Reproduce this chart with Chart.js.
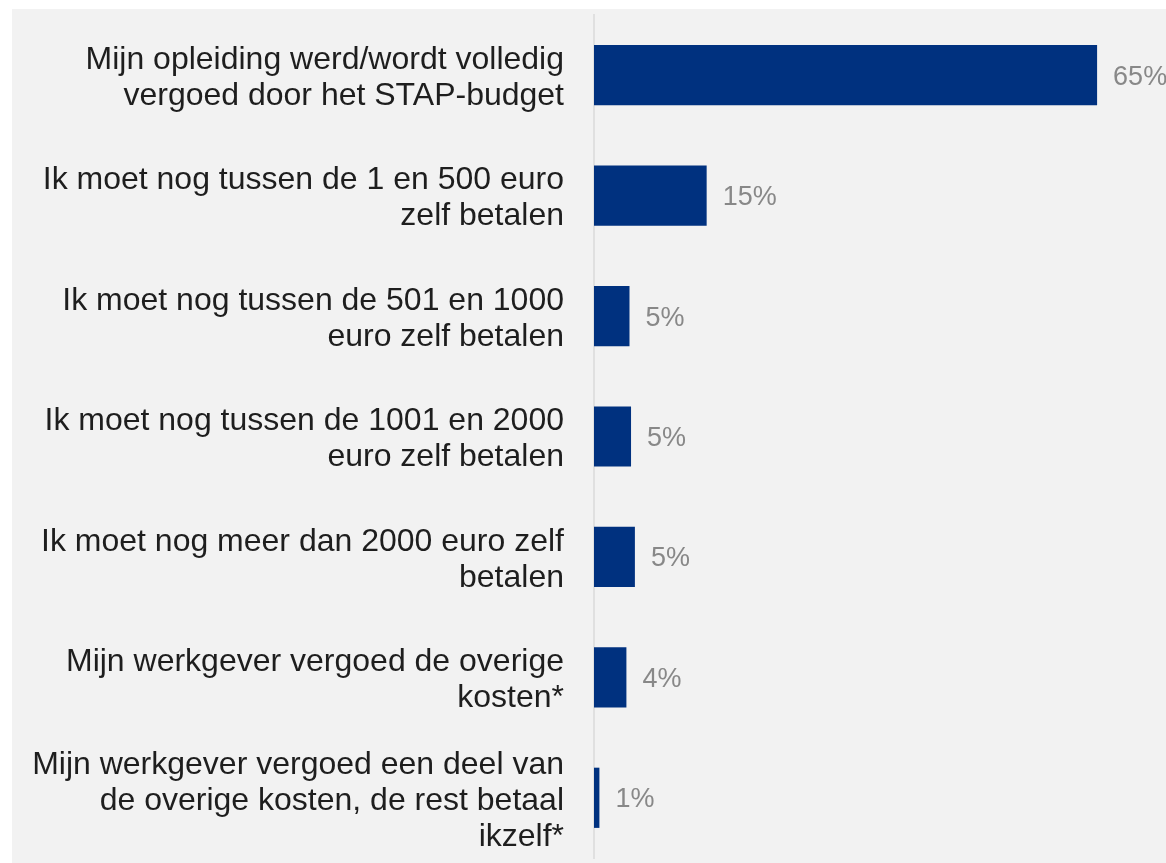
<!DOCTYPE html>
<html>
<head>
<meta charset="utf-8">
<script src="https://cdn.jsdelivr.net/npm/chart.js@4/dist/chart.umd.min.js"></script>
<style>
  body { margin: 0; background: #ffffff; }
  #wrap { position: absolute; left: 12px; top: 9px; width: 1154px; height: 854px; background: #f2f2f2; }
</style>
</head>
<body>
<div id="wrap"><canvas id="chart" width="1154" height="854"></canvas></div>
<script>
// categories (multi-line, as in the original)
const categories = [
    ["Mijn opleiding werd/wordt volledig", "vergoed door het STAP-budget"],
    ["Ik moet nog tussen de 1 en 500 euro", "zelf betalen"],
    ["Ik moet nog tussen de 501 en 1000", "euro zelf betalen"],
    ["Ik moet nog tussen de 1001 en 2000", "euro zelf betalen"],
    ["Ik moet nog meer dan 2000 euro zelf", "betalen"],
    ["Mijn werkgever vergoed de overige", "kosten*"],
    ["Mijn werkgever vergoed een deel van", "de overige kosten, de rest betaal", "ikzelf*"]
];

// share of respondents (%)
const shares = [65.2, 14.6, 4.6, 4.8, 5.3, 4.2, 0.7];

// value labels next to the bars
const valueLabels = {
    id: 'valueLabels',
    afterDatasetsDraw(chart) {
        const ctx = chart.ctx;
        const meta = chart.getDatasetMeta(0);
        ctx.save();
        ctx.font = '27px "Liberation Sans", Arial, sans-serif';
        ctx.fillStyle = '#888888';
        ctx.textAlign = 'left';
        ctx.textBaseline = 'middle';
        meta.data.forEach(function(bar, i) {
            ctx.fillText(Math.round(shares[i]) + '%', bar.x + 16, bar.y + 2);
        });
        ctx.restore();
    }
};

new Chart(document.getElementById('chart'), {
    type: 'bar',
    data: {
        labels: categories,
        datasets: [{
            data: shares,
            backgroundColor: '#00317f',
            barPercentage: 0.5,
            categoryPercentage: 1.0
        }]
    },
    options: {
        indexAxis: 'y',
        responsive: false,
        animation: false,
        devicePixelRatio: 1,
        layout: { padding: { left: 0, right: 1, top: 6, bottom: 5 } },
        plugins: {
            legend: { display: false },
            tooltip: { enabled: false }
        },
        scales: {
            x: {
                display: false,
                min: 0,
                max: 74
            },
            y: {
                afterFit: function(scale) {
                    scale.width = 582;
                    scale.paddingTop = 0;   // labels may overhang, like the original
                    scale.paddingBottom = 0;
                },
                grid: { display: false, drawTicks: false },
                border: { display: true, color: '#e0e0e0', width: 2 },
                ticks: {
                    padding: 30,
                    labelOffset: 3,
                    color: '#1e1e1e',
                    font: { family: '"Liberation Sans", Arial, sans-serif', size: 32, lineHeight: 1.125 }
                }
            }
        }
    },
    plugins: [valueLabels]
});
</script>
</body>
</html>
